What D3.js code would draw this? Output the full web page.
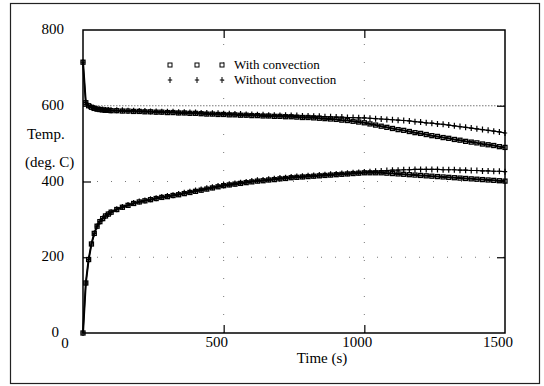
<!DOCTYPE html>
<html>
<head>
<meta charset="utf-8">
<script src="https://d3js.org/d3.v7.min.js"></script>
<style>
body{margin:0;background:#fff;}
svg{display:block;}
text{font-family:"Liberation Serif","DejaVu Serif",serif;fill:#000;}
</style>
</head>
<body>
<script>
let times=[0,10,20,30,40,50,60,70,80,90,100,
120,140,160,180,200,220,240,260,280,300,
320,340,360,380,400,420,440,460,480,500,
520,540,560,580,600,620,640,660,680,700,
720,740,760,780,800,820,840,860,880,900,
920,940,960,980,1000,1020,1040,1060,1080,1100,
1120,1140,1160,1180,1200,1220,1240,1260,1280,1300,
1320,1340,1360,1380,1400,1420,1440,1460,1480,1500];

let upperWith=[715,608,600,596,593,591,590,589,588,588,587,
587,586,586,585,585,584,584,583,583,582,
582,581,581,580,580,579,578,578,577,577,
576,576,575,575,574,574,573,573,572,572,
571,571,570,569,569,568,567,566,565,564,
562,561,559,557,555,552,549,546,543,540,
537,535,532,529,527,524,521,519,516,514,
511,509,506,504,502,499,497,495,492,490];

let upperWithout=[715,608,600,596,594,592,591,590,589,589,588,
588,588,587,587,586,586,585,585,584,584,
584,583,583,582,582,581,581,580,580,579,
579,578,578,577,577,576,576,575,575,574,
575,574,574,573,573,572,572,571,571,570,
570,569,569,568,568,567,566,565,564,563,
562,561,560,558,557,555,554,552,551,549,
547,545,543,541,539,537,535,533,531,528];

let lowerWith=[0,132,194,235,263,282,294,302,309,314,319,
326,332,337,342,346,349,352,355,358,360,
363,365,368,371,374,377,380,383,386,389,
391,393,395,397,399,401,402,404,405,407,
408,410,411,412,413,414,415,416,417,418,
419,420,421,422,423,423,423,423,422,421,
420,419,418,417,416,415,414,413,412,411,
410,409,408,407,406,405,404,403,402,401];

let lowerWithout=[0,132,194,235,263,282,294,302,309,314,319,
327,333,338,343,347,350,353,356,359,362,
364,367,370,373,376,379,382,385,388,391,
393,395,397,399,401,403,404,406,407,409,
410,412,413,414,415,416,417,418,419,420,
421,422,423,424,425,426,427,428,429,430,
430,431,431,432,432,432,432,432,431,431,
431,430,430,429,429,428,428,427,427,426];

let xTicks=[0,500,1000,1500];
let yTicks=[0,200,400,600,800];
let legendNames=["With convection","Without convection"];

let W=544,H=386;
let svg=d3.select("body").append("svg").attr("width",W).attr("height",H);

// outer frame of the scanned figure
svg.append("rect").attr("x",10.5).attr("y",3.5).attr("width",529).attr("height",380)
  .attr("fill","none").attr("stroke","#222").attr("stroke-width",1.2);

let x=d3.scaleLinear().domain([0,1500]).range([83,505]);
let y=d3.scaleLinear().domain([0,800]).range([333,30]);

// faint dotted grid
svg.append("g").selectAll("line").data(yTicks.filter(d=>d>0&&d<800)).enter().append("line")
  .attr("x1",x(0)).attr("x2",x(1500)).attr("y1",d=>y(d)).attr("y2",d=>y(d))
  .attr("stroke","#555").attr("stroke-width",0.8)
  .attr("stroke-dasharray",d=>d==600?"1.5,1.5":"1,13");
svg.append("g").selectAll("line").data(xTicks.filter(d=>d>0&&d<1500)).enter().append("line")
  .attr("x1",d=>x(d)).attr("x2",d=>x(d)).attr("y1",y(0)).attr("y2",y(800))
  .attr("stroke","#555").attr("stroke-width",0.8).attr("stroke-dasharray","1,17");

// plot box
svg.append("rect").attr("x",x(0)).attr("y",y(800)).attr("width",x(1500)-x(0)).attr("height",y(0)-y(800))
  .attr("fill","none").attr("stroke","#000").attr("stroke-width",1.5);

// inward ticks
let xAxB=d3.axisBottom(x).tickValues(xTicks.slice(1,-1)).tickSize(-8).tickFormat("");
let xAxT=d3.axisTop(x).tickValues(xTicks.slice(1,-1)).tickSize(-8).tickFormat("");
let yAxL=d3.axisLeft(y).tickValues(yTicks.slice(1,-1)).tickSize(-8).tickFormat("");
let yAxR=d3.axisRight(y).tickValues(yTicks.slice(1,-1)).tickSize(-8).tickFormat("");
svg.append("g").attr("transform",`translate(0,${y(0)})`).call(xAxB);
svg.append("g").attr("transform",`translate(0,${y(800)})`).call(xAxT);
svg.append("g").attr("transform",`translate(${x(0)},0)`).call(yAxL);
svg.append("g").attr("transform",`translate(${x(1500)},0)`).call(yAxR);
svg.selectAll(".domain").remove();
svg.selectAll(".tick line").attr("stroke","#000").attr("stroke-width",1.2);

// tick labels
svg.append("g").selectAll("text").data(xTicks).enter().append("text")
  .text(d=>d).attr("text-anchor","middle")
  .attr("x",d=>x(d)+(d==0?-18:-7)).attr("y",d=>d==0?348:347).style("font-size","15px");
svg.append("g").selectAll("text").data(yTicks).enter().append("text")
  .text(d=>d).attr("text-anchor","end")
  .attr("x",d=>d==0?59:64).attr("y",d=>y(d)+4).style("font-size","15px");

// axis titles
svg.append("text").text("Temp.").attr("x",27).attr("y",139).style("font-size","15px");
svg.append("text").text("(deg. C)").attr("x",25).attr("y",167).style("font-size","15px");
svg.append("text").text("Time (s)").attr("x",322).attr("y",363).attr("text-anchor","middle").style("font-size","15px");

let line=d3.line().x((d,i)=>x(times[i])).y(d=>y(d));
let plusPath="M-2.2,0H2.2M0,-3V3";

function drawSquares(vals){
  svg.append("path").datum(vals).attr("d",line).attr("fill","none").attr("stroke","#000").attr("stroke-width",2);
  svg.append("g").selectAll("rect").data(vals).enter().append("rect")
    .attr("x",(d,i)=>x(times[i])-2).attr("y",d=>y(d)-2).attr("width",4).attr("height",4)
    .attr("fill","none").attr("stroke","#000").attr("stroke-width",1.3);
}
function drawPluses(vals){
  svg.append("path").datum(vals).attr("d",line).attr("fill","none").attr("stroke","#000").attr("stroke-width",1.2);
  svg.append("g").selectAll("path").data(vals).enter().append("path")
    .attr("d",plusPath).attr("transform",(d,i)=>`translate(${x(times[i])},${y(d)})`)
    .attr("stroke","#000").attr("stroke-width",1.2);
}
drawSquares(upperWith);
drawSquares(lowerWith);
drawPluses(upperWithout);
drawPluses(lowerWithout);

// legend
let legX=[170,197,222];
let leg=svg.append("g");
leg.selectAll("rect").data(legX).enter().append("rect")
  .attr("x",d=>d-2).attr("y",63).attr("width",4).attr("height",4)
  .attr("fill","none").attr("stroke","#000").attr("stroke-width",1);
leg.selectAll("path").data(legX).enter().append("path")
  .attr("d",plusPath).attr("transform",d=>`translate(${d},80)`)
  .attr("stroke","#000").attr("stroke-width",1);
leg.selectAll("text").data(legendNames).enter().append("text")
  .text(d=>d).attr("x",234).attr("y",(d,i)=>69+i*15).style("font-size","13px");
</script>
</body>
</html>
